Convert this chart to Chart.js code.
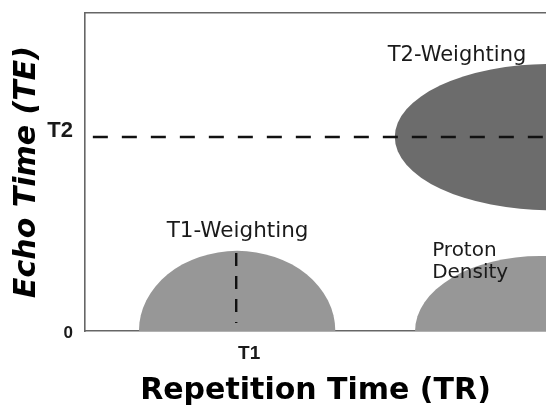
<!DOCTYPE html>
<html>
<head>
<meta charset="utf-8">
<script src="https://cdn.jsdelivr.net/npm/chart.js@4.4.1/dist/chart.umd.min.js"></script>
<style>
  html, body { margin: 0; padding: 0; background: #fff; }
  canvas { display: block; }
</style>
</head>
<body>
<canvas id="chart" width="546" height="412"></canvas>
<script>
// ---- DATA (axis units 0..100) ----
const xTickValues = [32.8];
const xTickLabels = ['T1'];
const yTickValues = [0, 61];
const yTickLabels = ['0', ['T2', '']];

// weighting regions drawn as ellipses (centre + radii in axis units)
const regionNames = ['T2-Weighting', 'T1-Weighting', 'Proton Density'];
const regionCx = [101, 33, 98.7];
const regionCy = [61, 0, 0];
const regionRx = [33.8, 21.3, 27.1];
const regionRy = [23, 25.2, 23.6];

// region label anchors
const labelX = [80.7, 33.1, 75.3];
const labelY = [86.5, 31.3, 21.7];

// dashed guide lines
const t2LineX = [1.7, 100];
const t2LineY = [61, 61];
const t1LineX = [32.8, 32.8];
const t1LineY = [24.5, 2.5];

const REGION_COLORS = ['#6c6c6c', '#979797', '#979797'];
const LABEL_ALIGN = ['center', 'center', 'left'];
const LABEL_SIZE = [21, 21.5, 20];

const toPoints = (xs, ys) => xs.map((v, i) => ({ x: v, y: ys[i] }));

// ---- PLUGIN: ellipses + labels ----
const regionsPlugin = {
  id: 'regions',
  beforeDatasetsDraw(chart) {
    const { ctx, chartArea, scales: { x, y } } = chart;
    ctx.save();
    ctx.beginPath();
    ctx.rect(chartArea.left, chartArea.top, chartArea.width, chartArea.height);
    ctx.clip();
    regionNames.forEach((name, i) => {
      const cx = x.getPixelForValue(regionCx[i]);
      const cy = y.getPixelForValue(regionCy[i]);
      const rx = Math.abs(x.getPixelForValue(regionCx[i] + regionRx[i]) - cx);
      const ry = Math.abs(y.getPixelForValue(regionCy[i] + regionRy[i]) - cy);
      ctx.fillStyle = REGION_COLORS[i];
      ctx.beginPath();
      ctx.ellipse(cx, cy, rx, ry, 0, 0, Math.PI * 2);
      ctx.fill();
    });
    ctx.restore();
  },
  afterDatasetsDraw(chart) {
    const { ctx, scales: { x, y } } = chart;
    ctx.save();
    ctx.fillStyle = '#1a1a1a';
    ctx.textBaseline = 'middle';
    regionNames.forEach((name, i) => {
      ctx.font = LABEL_SIZE[i] + 'px "DejaVu Sans"';
      ctx.textAlign = LABEL_ALIGN[i];
      const px = x.getPixelForValue(labelX[i]);
      const py = y.getPixelForValue(labelY[i]);
      const lines = name === 'Proton Density' ? name.split(' ') : [name];
      const lh = 22;
      lines.forEach((ln, j) => {
        ctx.fillText(ln, px, py + (j - (lines.length - 1) / 2) * lh);
      });
    });
    ctx.restore();
  }
};

// keep the axes from reserving extra room for their labels
const noPad = s => {
  s.paddingTop = 0; s.paddingBottom = 0;
  s.paddingLeft = 0; s.paddingRight = 0;
};

// ---- CHART ----
new Chart(document.getElementById('chart'), {
  type: 'scatter',
  data: {
    datasets: [
      {
        data: toPoints(t2LineX, t2LineY),
        showLine: true,
        borderColor: '#111',
        borderWidth: 2.6,
        borderDash: [15, 14],
        pointRadius: 0,
      },
      {
        data: toPoints(t1LineX, t1LineY),
        showLine: true,
        borderColor: '#111',
        borderWidth: 2.4,
        borderDash: [13, 10],
        pointRadius: 0,
      },
    ]
  },
  options: {
    responsive: false,
    animation: false,
    layout: { padding: { top: 13, right: 0, left: 0, bottom: 0 } },
    plugins: {
      legend: { display: false },
      tooltip: { enabled: false },
    },
    scales: {
      x: {
        type: 'linear',
        position: 'bottom',
        min: 0, max: 100,
        grid: { display: false },
        border: { display: true, color: '#666', width: 1.6 },
        afterBuildTicks: s => { s.ticks = xTickValues.map(v => ({ value: v })); },
        afterFit: s => { s.height = 81; noPad(s); },
        ticks: {
          color: '#1a1a1a',
          padding: 3,
          labelOffset: 13,
          maxRotation: 0,
          font: { family: 'Liberation Sans', size: 19, weight: 'bold' },
          callback: v => xTickLabels[xTickValues.indexOf(v)],
        },
        title: {
          display: true,
          text: 'Repetition Time (TR)',
          color: '#000',
          padding: { top: 0, bottom: 3 },
          font: { family: 'DejaVu Sans', size: 30, weight: 'bold' },
        },
      },
      x2: {
        type: 'linear',
        position: 'top',
        min: 0, max: 100,
        grid: { display: false },
        border: { display: true, color: '#666', width: 1.6 },
        ticks: { display: false },
        afterFit: s => { s.height = 0; noPad(s); },
      },
      y: {
        type: 'linear',
        min: 0, max: 100,
        grid: { display: false },
        border: { display: true, color: '#666', width: 1.6 },
        afterBuildTicks: s => { s.ticks = yTickValues.map(v => ({ value: v })); },
        afterFit: s => { s.width = 85; noPad(s); },
        ticks: {
          color: '#1a1a1a',
          padding: 4,
          labelOffset: 2,
          font: c => c.index === 0
            ? { family: 'Liberation Sans', size: 17, weight: 'bold' }
            : { family: 'Liberation Sans', size: 22, weight: 'bold', lineHeight: 0.75 },
          callback: v => yTickLabels[yTickValues.indexOf(v)],
        },
        title: {
          display: true,
          text: 'Echo Time (TE)',
          color: '#000',
          padding: { top: 9, bottom: 0 },
          font: { family: 'DejaVu Sans', size: 30, weight: 'bold', style: 'italic' },
        },
      },
    },
  },
  plugins: [regionsPlugin],
});
</script>
</body>
</html>
